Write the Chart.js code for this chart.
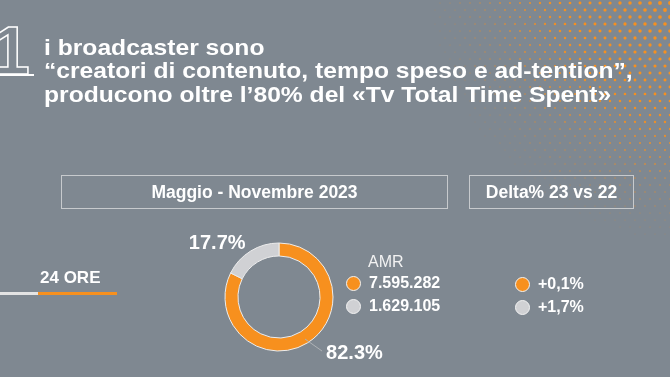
<!DOCTYPE html>
<html><head><meta charset="utf-8">
<script src="https://cdn.jsdelivr.net/npm/chart.js@4/dist/chart.umd.min.js"></script>
<style>
html,body{margin:0;padding:0}
body{width:670px;height:377px;background:#7f8891;overflow:hidden;position:relative;font-family:'Liberation Sans',Arial,sans-serif;color:#fff}
#c{position:absolute;left:0;top:0}
.abs{position:absolute;white-space:nowrap}
.title{left:44px;top:35.5px;font-size:22px;line-height:23.5px;font-weight:bold;transform:scaleX(1.12);transform-origin:0 0}
.big1{left:-8px;top:14px;font-size:68px;font-weight:bold;color:transparent;-webkit-text-stroke:1.5px #fff;line-height:72px}
.u1{left:0;top:74px;width:34px;height:2px;background:#fff}
.box{border:1.5px solid #c7cacd;box-sizing:border-box;height:34px;top:175px;display:flex;align-items:center;justify-content:center;font-weight:bold;font-size:17.5px}
.lg{display:flex;align-items:center;font-weight:bold;font-size:16px;height:20px}
.dot{width:15px;height:15px;border-radius:50%;box-sizing:border-box;border:1px solid #f2f2f2;margin-right:8px}
</style></head><body>
<canvas id="c" width="670" height="377"></canvas>
<div class="abs big1">1</div>
<div class="abs u1"></div>
<div class="abs title">i broadcaster sono<br>“creatori di contenuto, tempo speso e ad-tention”,<br>producono oltre l’80% del «Tv Total Time Spent»</div>
<div class="abs box" style="left:61px;width:387px">Maggio - Novembre 2023</div>
<div class="abs box" style="left:469px;width:165px">Delta% 23 vs 22</div>
<div class="abs" style="left:40px;top:268px;font-size:17px;font-weight:bold">24 ORE</div>
<div class="abs" style="left:0;top:292px;width:38px;height:3px;background:#e4e4e4"></div>
<div class="abs" style="left:38px;top:292px;width:79px;height:3px;background:#f7901e"></div>
<div class="abs" style="left:368px;top:253px;font-size:16px;color:#f2f2f2">AMR</div>
<div id="amr" class="abs" style="left:346px;top:273px"></div>
<div id="delta" class="abs" style="left:515px;top:274px"></div>
<script>
const categories = ['Broadcaster', 'Altri'];
const amrValues = [7595282, 1629105];
const deltaLabels = ['+0,1%', '+1,7%'];
const sliceColors = ['#f7901e', '#d0d1d4'];

function fmtIt(v){ return String(v).replace(/\B(?=(\d{3})+(?!\d))/g, '.'); }
const total = amrValues.reduce((a,b)=>a+b,0);
const pctLabels = amrValues.map(v => (v/total*100).toFixed(1) + '%');

function buildLegend(id, texts){
  const el = document.getElementById(id);
  texts.forEach((t,i)=>{
    const row = document.createElement('div');
    row.className='lg';
    row.style.marginBottom = '3px';
    const d = document.createElement('div');
    d.className='dot'; d.style.background = sliceColors[i];
    const s = document.createElement('span'); s.textContent = t;
    row.appendChild(d); row.appendChild(s); el.appendChild(row);
  });
}
buildLegend('amr', amrValues.map(fmtIt));
buildLegend('delta', deltaLabels);

const dotsPlugin = {
  id:'dots',
  beforeDraw(chart){
    const ctx = chart.ctx;
    ctx.save();
    ctx.fillStyle = '#f7901e';
    for(let i=0;i<36;i++){
      const y = 3 + i*7;
      for(let x = 430 + (i%2)*5; x < 675; x += 10){
        const d = Math.hypot(x-700, y+30);
        const t = 1 - d/272;
        if(t <= 0) continue;
        ctx.globalAlpha = Math.min(1, 0.35 + t*1.3);
        ctx.beginPath();
        ctx.arc(x, y, 0.45 + 1.8*t, 0, Math.PI*2);
        ctx.fill();
      }
    }
    ctx.restore();
  }
};

const labelPlugin = {
  id:'pctLabels',
  afterDatasetsDraw(chart){
    const ctx = chart.ctx;
    const meta = chart.getDatasetMeta(0);
    ctx.save();
    ctx.font = 'bold 20px "Liberation Sans", Arial, sans-serif';
    ctx.fillStyle = '#ffffff';
    ctx.textBaseline = 'middle';
    meta.data.forEach((arc,i)=>{
      const p = arc.getProps(['x','y','startAngle','endAngle','outerRadius','innerRadius'], true);
      const mid = (p.startAngle + p.endAngle)/2;
      const cx = Math.cos(mid), cy = Math.sin(mid);
      if(i === 0){
        const rm = (p.outerRadius + p.innerRadius)/2 + 2;
        const sx = p.x + cx*rm, sy = p.y + cy*rm;
        const ex = sx + 17, ey = sy + 12;
        ctx.strokeStyle = '#aeb2b6'; ctx.lineWidth = 1;
        ctx.beginPath(); ctx.moveTo(sx,sy); ctx.lineTo(ex,ey); ctx.stroke();
        ctx.textAlign = 'left';
        ctx.fillText(pctLabels[i], ex + 4, ey + 2);
      } else {
        const ox = p.x + cx*p.outerRadius, oy = p.y + cy*p.outerRadius;
        ctx.textAlign = 'right';
        ctx.fillText(pctLabels[i], ox - 5, oy - 8);
      }
    });
    ctx.restore();
  }
};

new Chart(document.getElementById('c'), {
  type:'doughnut',
  data:{ labels: categories, datasets:[{ data: amrValues, backgroundColor: sliceColors, borderColor:'#ececec', borderWidth:1 }]},
  options:{
    responsive:false, animation:false, devicePixelRatio:1,
    radius: 54, cutout: '76%',
    layout:{ padding:{ left:0, right:112, top:217, bottom:0 } },
    plugins:{ legend:{display:false}, tooltip:{enabled:false} }
  },
  plugins:[dotsPlugin, labelPlugin]
});
</script>
</body></html>
